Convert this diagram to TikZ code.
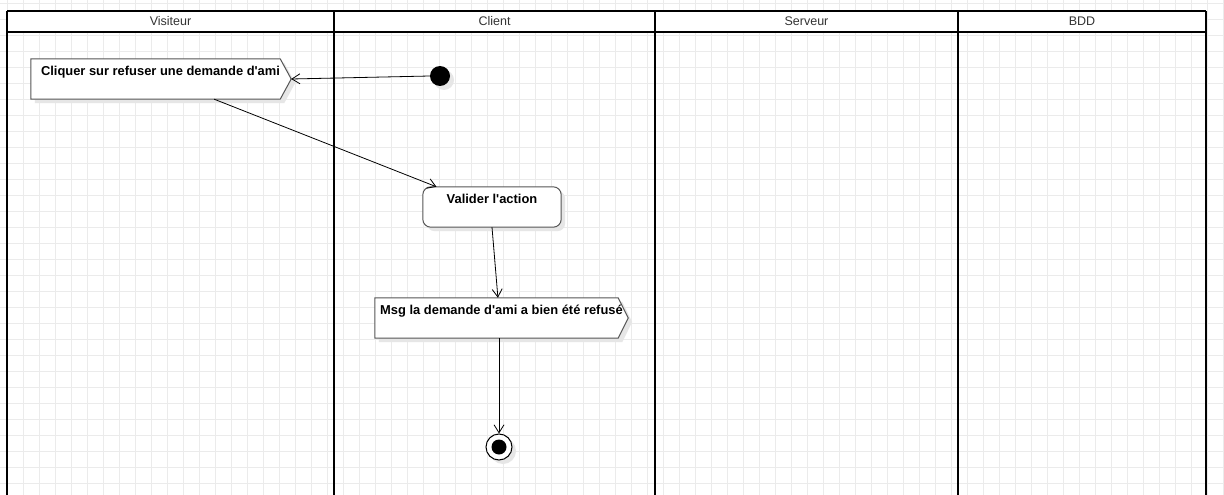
\documentclass[tikz,border=0pt]{standalone}
\usepackage{fontspec}
\setmainfont{Liberation Sans}[Ligatures=TeXOff]
\usetikzlibrary{arrows.meta,calc}
\definecolor{gridc}{HTML}{EBEBEB}
\definecolor{shadec}{HTML}{E6E6E6}
\definecolor{boxc}{HTML}{555555}
\definecolor{headtxt}{HTML}{333333}
\begin{document}
\begin{tikzpicture}[x=1pt,y=-1pt,
  lane/.style={line width=2.5pt, black},
  headlbl/.style={font=\fontsize{12.5}{14}\selectfont, text=headtxt},
  holder/.style={draw=none, inner sep=0pt},
  act/.style={draw=boxc, line width=1pt, fill=white},
  shade/.style={fill=shadec},
  lbl/.style={font=\bfseries\fontsize{12.9}{15}\selectfont, inner sep=0pt},
  flow/.style={-{Straight Barb[length=8pt,width=10pt]}, line width=0.8pt, black}]
\useasboundingbox (0,0) rectangle (1224,495);
\clip (0,0) rectangle (1224,495);
\fill[white] (0,0) rectangle (1224,495);
% grid
\foreach \gx in {7.3,23.3,...,1224} \draw[gridc, line width=1pt] (\gx,0) -- (\gx,495);
\foreach \gy in {3.3,19.3,...,496} \draw[gridc, line width=1pt] (0,\gy) -- (1224,\gy);
% header band
\fill[white] (7,11) rectangle (1206,32);
\draw[lane] (7,11) -- (1206,11);
\draw[lane] (7,32) -- (1206,32);
\foreach \lx in {7,334,655,958,1206} \draw[lane] (\lx,11) -- (\lx,500);
\node[headlbl] (h1) at (170.5,21.5) {Visiteur};
\node[headlbl] (h2) at (494.5,21.5) {Client};
\node[headlbl] (h3) at (806.5,21.5) {Serveur};
\node[headlbl] (h4) at (1082,21.5) {BDD};
% nodes (holders)
\node[holder, minimum width=249pt, minimum height=40pt] (a1) at (155.5,79) {};
\node[holder, minimum width=138pt, minimum height=40pt] (a2) at (492,207) {};
\node[holder, minimum width=243pt, minimum height=40pt] (a3) at (496.5,318) {};
\coordinate (a1tip) at ($(a1.east)+(11,0)$);
\coordinate (a3tip) at ($(a3.east)+(10,0)$);
% shadows
\fill[shade] ($(a1.north west)+(4,4)$) -- ($(a1.north east)+(4,4)$) -- ($(a1tip)+(4,4)$) -- ($(a1.south east)+(4,4)$) -- ($(a1.south west)+(4,4)$) -- cycle;
\fill[shade, rounded corners=8pt] ($(a2.north west)+(4,4)$) rectangle ($(a2.south east)+(4,4)$);
\fill[shade] ($(a3.north west)+(4,4)$) -- ($(a3.north east)+(4,4)$) -- ($(a3tip)+(4,4)$) -- ($(a3.south east)+(4,4)$) -- ($(a3.south west)+(4,4)$) -- cycle;
\fill[shade] (444,80) circle (10);
\fill[shade] (503,451) circle (13);
% shapes
\draw[act] (a1.north west) -- (a1.north east) -- (a1tip) -- (a1.south east) -- (a1.south west) -- cycle;
\draw[act, rounded corners=8pt] (a2.north west) rectangle (a2.south east);
\draw[act] (a3.north west) -- (a3.north east) -- (a3tip) -- (a3.south east) -- (a3.south west) -- cycle;
\node[lbl] (t1) at (160.5,72) {Cliquer sur refuser une demande d'ami};
\node[lbl] (t2) at (492,199) {Valider l'action};
\node[lbl] (t3) at (501.5,311) {Msg la demande d'ami a bien été refusé};
\node[circle, fill=black, minimum size=20pt, inner sep=0pt] (init) at (440,76) {};
\node[circle, draw=black, line width=1pt, fill=white, minimum size=26pt, inner sep=0pt] (fin) at (499,447) {};
\fill[black] (fin.center) circle (7.5);
% flows
\draw[flow] (init.west) -- (a1tip);
\draw[flow] (a1.-19) -- (a2.160);
\draw[flow] (a2.south) -- (a3.86);
\draw[flow] (a3.south -| fin.north) -- (fin.north);
\end{tikzpicture}
\end{document}
